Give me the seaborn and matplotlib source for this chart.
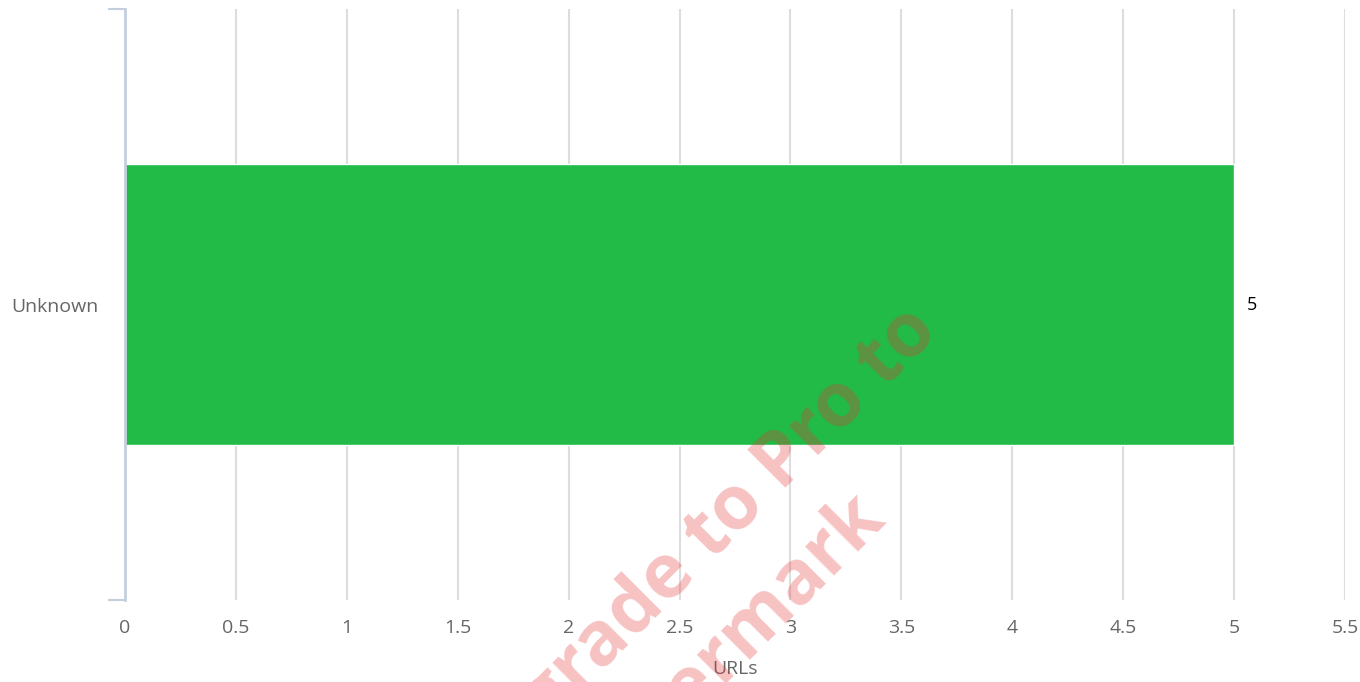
import matplotlib
matplotlib.use("Agg")
import matplotlib.pyplot as plt
import seaborn as sns
import pandas as pd
from matplotlib.ticker import FixedLocator

# Data
categories = ["Unknown"]
url_counts = [5]
x_ticks = [0, 0.5, 1, 1.5, 2, 2.5, 3, 3.5, 4, 4.5, 5, 5.5]
x_tick_labels = ["0", "0.5", "1", "1.5", "2", "2.5", "3", "3.5", "4", "4.5", "5", "5.5"]
x_label = "URLs"
watermark_lines = ["Upgrade to Pro to", "remove watermark"]

sns.set_theme(style="white")
plt.rcParams["font.family"] = ["Open Sans", "DejaVu Sans"]

W, H = 1360, 682
fig = plt.figure(figsize=(W / 100, H / 100), dpi=100)
ax = fig.add_axes([125 / W, (H - 600) / H, 1220 / W, 591 / H])

df = pd.DataFrame({"category": categories, "urls": url_counts})
sns.barplot(data=df, x="urls", y="category", orient="h", color="#22bb47",
            saturation=1, width=0.477, edgecolor="white", linewidth=1.0,
            ax=ax, zorder=2)

ax.set_xlim(0, 5.5)
ax.set_ylim(0.5, -0.5)

# Vertical grid lines
ax.set_xticks(x_ticks)
ax.set_xticklabels(x_tick_labels)
ax.xaxis.grid(True, color="#dddddd", linewidth=1.5, zorder=0)
ax.yaxis.grid(False)
ax.set_axisbelow(True)

for side in ["top", "right", "bottom"]:
    ax.spines[side].set_visible(False)
ax.spines["left"].set_color("#c3cfdf")
ax.spines["left"].set_linewidth(2)
ax.spines["left"].set_zorder(3)

ax.tick_params(axis="x", length=0, pad=14, labelsize=14, labelcolor="#666666")
ax.tick_params(axis="y", which="major", left=False, length=0, pad=19,
               labelsize=14, labelcolor="#666666")
# Category boundary ticks on the value axis
ax.yaxis.set_minor_locator(FixedLocator([-0.5, 0.5]))
ax.tick_params(axis="y", which="minor", left=True, length=12.5, width=1.5,
               color="#c3cfdf", direction="out")

ax.set_xlabel(x_label, fontsize=14, color="#666666", labelpad=16)
ax.set_ylabel("")

# Value labels at the bar ends
for cat_idx, val in enumerate(url_counts):
    ax.annotate(str(val), xy=(val, cat_idx), xytext=(9, 0),
                textcoords="offset points", va="center", ha="left",
                fontsize=13, color="black")

# Diagonal watermark, each line anchored at the end of its baseline
line_ends = [(940, 333), (887, 522)]
for text, (px, py) in zip(watermark_lines, line_ends):
    fig.text(px / W, 1 - py / H, text, rotation=45, rotation_mode="anchor",
             ha="right", va="baseline", fontsize=54, fontweight="bold",
             color="#e63333", alpha=0.3, family=["Open Sans", "DejaVu Sans"],
             zorder=10)

fig.savefig("out.png", dpi=100)
